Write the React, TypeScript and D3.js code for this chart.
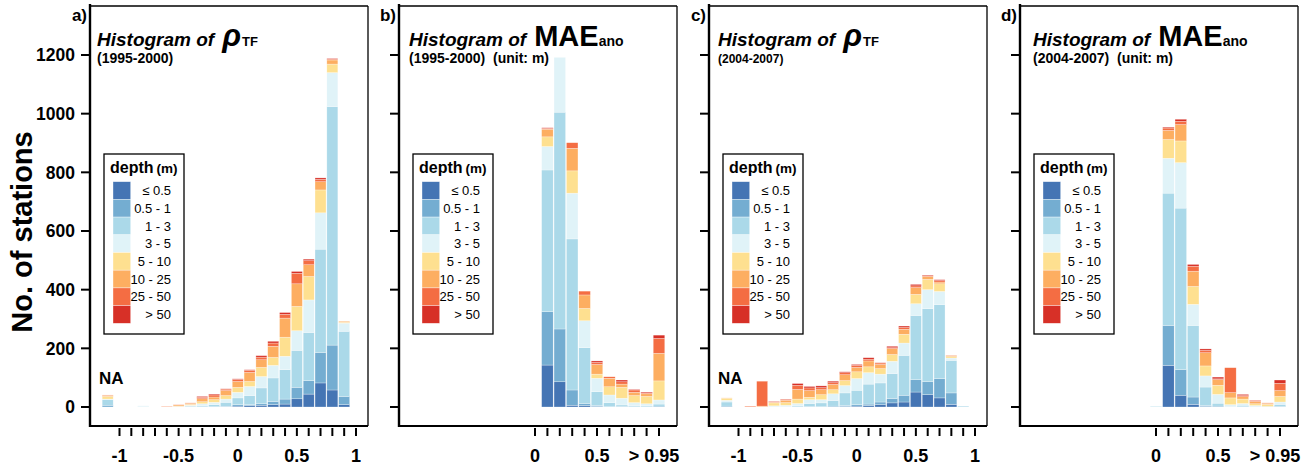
import React from 'react';
import * as d3 from 'd3';

// depth classes, bottom to top of each stacked bar
const depthClasses = ['≤ 0.5', '0.5 - 1', '1 - 3', '3 - 5', '5 - 10', '10 - 25', '25 - 50', '> 50'];
const depthColors = ['#4575b4', '#74add1', '#abd9e9', '#e0f3f8', '#fee090', '#fdae61', '#f46d43', '#d73027'];

const yTicks = [0, 200, 400, 600, 800, 1000, 1200];
const NA_POS = -1.1; // where the "NA" bar sits on the rho axis

const rhoTicks = d3.range(-10, 11).map(i => i / 10);
const rhoTickLabels = [[-1, '-1'], [-0.5, '-0.5'], [0, '0'], [0.5, '0.5'], [1, '1']];
const maeTicks = d3.range(0, 11).map(i => i / 10);
const maeTickLabels = [[0, '0'], [0.5, '0.5'], [0.96, '> 0.95']];

// a) rho_TF 1995-2000
const rhoBins9500 = [NA_POS, -0.8, -0.6, -0.5, -0.4, -0.3, -0.2, -0.1, 0, 0.1, 0.2, 0.3, 0.4, 0.5, 0.6, 0.7, 0.8, 0.9];
const rhoCounts9500 = [
  [0, 6, 19, 2, 9, 4, 1, 0],
  [0, 0, 1, 3, 0, 0, 0, 0],
  [0, 0, 0, 0, 0, 1, 1, 0],
  [0, 0, 1, 1, 1, 4, 1, 0],
  [0, 0, 3, 3, 3, 4, 1, 0],
  [0, 1, 4, 6, 7, 10, 5, 3],
  [0, 1, 7, 8, 9, 9, 7, 3],
  [1, 1, 14, 11, 12, 17, 5, 1],
  [3, 5, 23, 19, 17, 20, 7, 2],
  [5, 3, 31, 31, 17, 31, 7, 2],
  [6, 5, 54, 39, 31, 26, 9, 5],
  [8, 11, 80, 43, 27, 38, 11, 6],
  [10, 17, 100, 46, 65, 65, 13, 6],
  [28, 39, 126, 67, 83, 77, 36, 6],
  [44, 46, 164, 111, 80, 40, 14, 5],
  [82, 104, 352, 124, 78, 28, 8, 5],
  [58, 153, 813, 116, 29, 14, 3, 2],
  [8, 28, 222, 28, 3, 3, 0, 0],
];

// b) MAE_ano 1995-2000
const maeBins9500 = [0.1, 0.2, 0.3, 0.4, 0.5, 0.6, 0.7, 0.8, 0.9, 1.0];
const maeCounts9500 = [
  [143, 182, 483, 80, 33, 26, 3, 2],
  [86, 180, 739, 187, 0, 0, 0, 0],
  [6, 52, 515, 156, 76, 77, 19, 0],
  [5, 7, 190, 92, 42, 46, 13, 0],
  [2, 3, 47, 46, 14, 33, 7, 5],
  [0, 1, 14, 26, 28, 29, 5, 0],
  [0, 2, 5, 23, 37, 11, 8, 6],
  [0, 1, 4, 10, 24, 11, 8, 2],
  [0, 1, 3, 7, 25, 9, 3, 3],
  [0, 3, 7, 14, 65, 94, 51, 11],
];

// c) rho_TF 2004-2007
const rhoBins0407 = [NA_POS, -0.9, -0.8, -0.7, -0.6, -0.5, -0.4, -0.3, -0.2, -0.1, 0, 0.1, 0.2, 0.3, 0.4, 0.5, 0.6, 0.7, 0.8, 0.9];
const rhoCounts0407 = [
  [0, 3, 14, 6, 7, 1, 0, 0],
  [0, 0, 0, 0, 0, 1, 2, 0],
  [0, 0, 0, 0, 1, 2, 85, 0],
  [0, 0, 1, 3, 10, 2, 2, 1],
  [0, 0, 1, 5, 9, 8, 3, 1],
  [0, 1, 3, 8, 15, 33, 14, 6],
  [0, 2, 10, 13, 8, 23, 9, 5],
  [0, 1, 13, 11, 17, 17, 7, 6],
  [0, 3, 19, 23, 14, 18, 6, 5],
  [2, 3, 43, 25, 17, 20, 7, 3],
  [3, 5, 49, 40, 23, 15, 7, 3],
  [5, 5, 68, 39, 20, 20, 6, 5],
  [8, 9, 65, 30, 19, 14, 5, 1],
  [14, 15, 85, 42, 23, 20, 3, 5],
  [17, 23, 136, 42, 30, 17, 6, 5],
  [51, 42, 219, 40, 32, 23, 6, 5],
  [42, 45, 248, 65, 35, 10, 3, 2],
  [31, 66, 252, 45, 26, 6, 5, 3],
  [9, 39, 111, 8, 5, 3, 1, 0],
  [0, 0, 3, 0, 0, 0, 0, 0],
];

// d) MAE_ano 2004-2007
const maeBins0407 = [0, 0.1, 0.2, 0.3, 0.4, 0.5, 0.6, 0.7, 0.8, 0.9, 1.0];
const maeCounts0407 = [
  [0, 0, 2, 0, 0, 0, 0, 0],
  [142, 136, 451, 119, 64, 31, 8, 3],
  [40, 87, 551, 155, 74, 56, 11, 7],
  [9, 25, 244, 72, 61, 52, 17, 6],
  [2, 3, 63, 38, 34, 45, 8, 5],
  [0, 3, 10, 30, 31, 19, 3, 6],
  [0, 0, 2, 6, 23, 18, 85, 0],
  [0, 1, 5, 6, 15, 8, 4, 4],
  [0, 0, 2, 3, 6, 8, 3, 1],
  [0, 0, 2, 0, 7, 4, 1, 0],
  [0, 2, 7, 8, 19, 20, 25, 11],
];

const font = '"Liberation Sans", Arial, sans-serif';

// layout
const top = 6;
const bottom = 426;
const panelW = 278;
const yScale = d3.scaleLinear().domain([0, 1200]).range([407, 55]);

const panels = [
  { tag: 'a)', left: 90, kind: 'rho', bins: rhoBins9500, counts: rhoCounts9500, sub: '(1995-2000)', subSize: 14, titleDx: 7 },
  { tag: 'b)', left: 399, kind: 'mae', bins: maeBins9500, counts: maeCounts9500, sub: '(1995-2000)  (unit: m)', subSize: 14, titleDx: 10 },
  { tag: 'c)', left: 709, kind: 'rho', bins: rhoBins0407, counts: rhoCounts0407, sub: '(2004-2007)', subSize: 12, titleDx: 9 },
  { tag: 'd)', left: 1020, kind: 'mae', bins: maeBins0407, counts: maeCounts0407, sub: '(2004-2007)  (unit: m)', subSize: 14, titleDx: 13 },
];

const Panel = ({ p, showYLabels }) => {
  const isRho = p.kind === 'rho';
  const x = isRho
    ? d3.scaleLinear().domain([-1, 1]).range([p.left + 29.5, p.left + 266])
    : d3.scaleLinear().domain([0, 1]).range([p.left + 136, p.left + 260]);
  const step = x(0.1) - x(0);
  const bw = step * 0.93;
  const ticks = isRho ? rhoTicks : maeTicks;
  const tickLabels = isRho ? rhoTickLabels : maeTickLabels;

  const rows = p.bins.map((b, i) => ({ bin: b, vals: p.counts[i] }));
  const stack = d3.stack().keys(d3.range(8)).value((d, k) => d.vals[k]);
  const series = stack(rows);

  const right = p.left + panelW;

  return (
    <g>
      {/* stacked bars */}
      {series.map((s, k) => (
        <g key={k} fill={depthColors[k]}>
          {s.map((seg, i) => seg[1] - seg[0] > 0 ? (
            <rect
              key={i}
              x={x(seg.data.bin) - bw / 2}
              y={yScale(seg[1])}
              width={bw}
              height={yScale(seg[0]) - yScale(seg[1])}
              stroke='#ffffff'
              strokeOpacity={0.55}
              strokeWidth={0.5}
            />
          ) : null)}
        </g>
      ))}

      {isRho && (
        <text x={p.left + 9} y={384} fontSize={17} fontWeight='bold' fontFamily={font}>NA</text>
      )}

      {/* frame */}
      <line x1={p.left} x2={right} y1={top} y2={top} stroke='#000' strokeWidth={1.3} />
      <line x1={right} x2={right} y1={top} y2={bottom} stroke='#000' strokeWidth={1.3} />
      <line x1={p.left} x2={right} y1={bottom} y2={bottom} stroke='#000' strokeWidth={2.2} />
      <line x1={p.left} x2={p.left} y1={top - 2} y2={bottom + 1} stroke='#000' strokeWidth={2.4} />

      {/* y ticks */}
      {yTicks.map(t => (
        <g key={t}>
          <line x1={p.left - 9} x2={p.left} y1={yScale(t)} y2={yScale(t)} stroke='#000' strokeWidth={2} />
          {showYLabels && (
            <text x={p.left - 15} y={yScale(t)} dy='0.36em' textAnchor='end' fontSize={17.5}
              fontWeight='bold' fontFamily={font}>{t}</text>
          )}
        </g>
      ))}

      {/* x ticks */}
      {ticks.map(t => (
        <line key={t} x1={x(t)} x2={x(t)} y1={428} y2={436} stroke='#000' strokeWidth={2} />
      ))}
      {tickLabels.map(([v, lab]) => (
        <text key={lab} x={x(v)} y={462} textAnchor='middle' fontSize={18} fontWeight='bold' fontFamily={font}>{lab}</text>
      ))}

      {/* panel tag */}
      <text x={p.left - 3} y={21} textAnchor='end' fontSize={17} fontWeight='bold' fontFamily={font}>{p.tag}</text>

      {/* title */}
      <text x={p.left + p.titleDx} y={46} fontFamily={font} fontWeight='bold'>
        <tspan fontStyle='italic' fontSize={19}>Histogram of</tspan>
        {isRho ? (
          <>
            <tspan dx={8} fontSize={31} fontStyle='italic'>ρ</tspan>
            <tspan dx={1} fontSize={13}>TF</tspan>
          </>
        ) : (
          <>
            <tspan dx={8} fontSize={29}>MAE</tspan>
            <tspan fontSize={14}>ano</tspan>
          </>
        )}
      </text>
      <text x={p.left + p.titleDx} y={63} fontSize={p.subSize} fontWeight='bold' fontFamily={font}
        style={{ whiteSpace: 'pre' }}>{p.sub}</text>

      {/* legend */}
      <g transform={`translate(${p.left + 14},154)`}>
        <rect x={0} y={0} width={80} height={180} fill='#fff' stroke='#000' strokeWidth={1.3} />
        <text x={6} y={19} fontFamily={font} fontWeight='bold'>
          <tspan fontSize={16}>depth</tspan>
          <tspan dx={3} fontSize={13.5}>(m)</tspan>
        </text>
        {depthClasses.map((c, i) => (
          <g key={c}>
            <rect x={9} y={27.7 + i * 17.7} width={17.7} height={17.7} fill={depthColors[i]}
              stroke='#ffffff' strokeOpacity={0.6} strokeWidth={0.6} />
            <text x={67} y={27.7 + i * 17.7 + 8.85} dy='0.36em' textAnchor='end' fontSize={13}
              fontFamily={font}>{c}</text>
          </g>
        ))}
      </g>
    </g>
  );
};

const App = () => {
  return (
    <svg width={1316} height={469} viewBox='0 0 1316 469'
      style={{ position: 'absolute', left: 0, top: 0, background: '#fff' }}>
      <rect x={0} y={0} width={1316} height={469} fill='#fff' />
      <text transform='translate(32,232) rotate(-90)' textAnchor='middle' fontSize={29}
        fontWeight='bold' fontFamily={font}>No. of stations</text>
      {panels.map((p, i) => <Panel key={p.tag} p={p} showYLabels={i === 0} />)}
    </svg>
  );
};

export default App;
